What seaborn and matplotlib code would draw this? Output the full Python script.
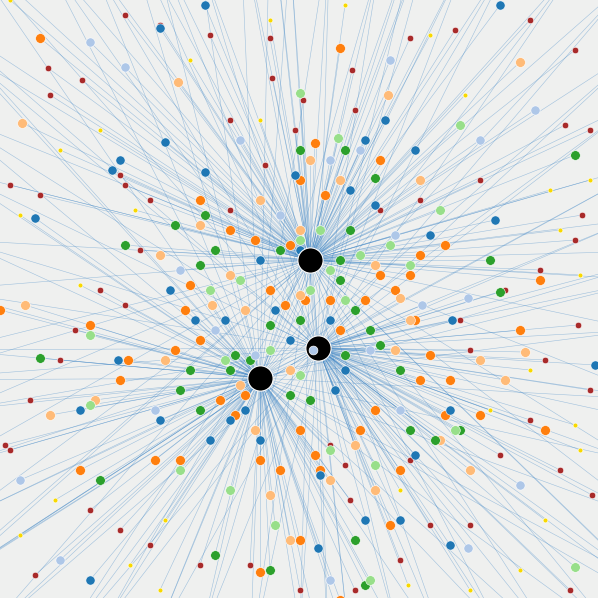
import numpy as np
import pandas as pd
import matplotlib.pyplot as plt
import seaborn as sns
from matplotlib.collections import LineCollection

# hub nodes (pixel-like layout coordinates)
hub_x = [310, 318, 260]
hub_y = [260, 348, 378]

# nodes per group
dark_red = [(270,38),(303,100),(272,78),(352,70),(410,38),(455,30),(530,20),(575,50),(590,130),(565,125),(582,215),(575,240),(540,270),(578,325),(545,360),(590,390),(530,420),(500,455),(560,470),(592,495),(470,525),(430,525),(400,560),(355,590),(300,590),(250,565),(200,565),(150,545),(120,530),(90,510),(35,575),(10,450),(5,445),(30,400),(60,360),(75,330),(100,290),(125,305),(140,250),(150,200),(125,185),(120,175),(10,185),(40,195),(48,68),(50,95),(82,80),(125,15),(160,25),(210,35),(230,120),(265,165),(230,210),(470,350),(460,320),(505,290),(480,180),(420,200),(380,210),(355,110),(295,130),(410,460),(350,500),(330,445),(345,465),(570,590)]
orange = [(40,38),(340,48),(315,143),(290,245),(325,195),(300,180),(230,230),(255,240),(270,290),(200,200),(190,285),(185,310),(380,275),(395,290),(415,320),(420,380),(430,355),(450,380),(480,415),(540,280),(520,330),(545,430),(445,415),(375,410),(360,430),(390,525),(340,600),(260,572),(300,540),(280,470),(300,430),(220,400),(200,340),(175,350),(120,380),(90,325),(0,310),(80,470),(180,460),(315,455),(320,355),(340,330),(330,300),(305,300),(285,305),(245,395),(235,415),(155,460),(380,160),(445,245),(420,255),(410,275),(128,360),(260,460),(320,470),(365,300),(400,470)]
light_orange = [(22,123),(178,82),(388,95),(520,62),(400,298),(410,320),(480,360),(505,380),(525,352),(470,470),(440,440),(375,265),(375,490),(290,540),(270,495),(255,430),(240,385),(212,305),(160,255),(165,360),(95,400),(50,415),(25,305),(200,225),(230,275),(245,310),(300,295),(300,230),(340,180),(420,180),(395,350),(355,445),(330,480),(310,160),(260,200),(290,370)]
green = [(575,155),(490,260),(500,292),(375,178),(345,150),(300,150),(205,215),(200,265),(215,250),(230,370),(235,355),(270,325),(280,250),(350,230),(355,310),(340,280),(345,355),(370,330),(380,345),(400,370),(410,430),(435,440),(460,430),(355,540),(365,585),(215,555),(270,570),(100,480),(40,358),(125,245),(175,225),(190,370),(180,390),(290,395),(300,320),(310,400),(340,260),(250,360),(200,410)]
light_green = [(300,93),(338,138),(440,210),(460,125),(410,265),(390,245),(360,255),(345,300),(330,270),(310,290),(300,240),(320,230),(240,280),(210,290),(90,335),(90,405),(180,470),(230,490),(275,525),(330,450),(375,465),(370,580),(455,430),(575,567),(300,375),(270,350),(225,360)]
blue = [(205,5),(160,28),(165,142),(205,172),(112,170),(120,160),(295,175),(365,140),(375,205),(350,190),(385,120),(415,150),(500,5),(495,220),(430,235),(452,320),(450,410),(415,455),(400,520),(365,520),(318,548),(320,475),(260,440),(230,420),(210,440),(160,420),(80,410),(35,218),(118,360),(170,290),(195,320),(225,320),(260,260),(275,310),(290,340),(330,320),(345,370),(335,390),(300,250),(245,410),(90,580),(450,545),(595,365)]
light_blue = [(90,42),(125,67),(390,60),(535,110),(480,140),(422,305),(395,235),(360,150),(240,140),(180,270),(215,330),(255,355),(330,160),(280,215),(155,410),(20,480),(60,560),(330,580),(468,548),(468,298),(520,485),(400,410),(370,350)]
yellow = [(10,0),(100,130),(60,150),(20,215),(80,285),(135,210),(190,60),(270,20),(345,5),(430,35),(465,95),(550,190),(590,180),(560,230),(580,275),(530,370),(575,425),(580,450),(545,520),(470,590),(520,570),(408,585),(160,590),(130,565),(20,535),(55,500),(165,520),(400,490),(490,410),(260,120),(600,410)]

# leaves beyond the visible frame (only their links show)
offscreen = [(-40,-60),(40,-50),(90,-40),(150,-70),(200,-40),(240,-80),(290,-50),(330,-70),(380,-40),(420,-80),(470,-50),(520,-60),(580,-40),(640,-30),(650,40),(640,100),(660,160),(630,220),(650,280),(640,330),(660,400),(630,460),(650,520),(640,580),(620,640),(560,650),(500,630),(450,660),(400,640),(350,650),(300,630),(250,660),(200,640),(150,650),(100,630),(50,660),(-20,640),(-50,580),(-40,520),(-60,470),(-40,410),(-50,350),(-60,290),(-40,240),(-50,170),(-60,110),(-40,50),(-70,10),(120,-90),(270,-100),(440,-100),(690,250),(-90,380),(330,690),(-80,600),(680,620)]

groups = {
    'dark_red': (dark_red, '#a82a2a', 22),
    'orange': (orange, '#ff7f0e', 50),
    'light_orange': (light_orange, '#ffbb78', 50),
    'green': (green, '#2ca02c', 48),
    'light_green': (light_green, '#98df8a', 48),
    'blue': (blue, '#1f77b4', 44),
    'light_blue': (light_blue, '#aec7e8', 44),
    'yellow': (yellow, '#f8d800', 12),
}

rows = []
for name, (pts, col, s) in groups.items():
    for x, y in pts:
        rows.append({'x': x, 'y': y, 'group': name, 'size': s})
df = pd.DataFrame(rows)

# each node links to its nearest hub; off-frame leaves link to every hub
hx, hy = np.array(hub_x), np.array(hub_y)
segs = []
for x, y in zip(df['x'], df['y']):
    k = np.argmin((hx - x) ** 2 + (hy - y) ** 2)
    segs.append([(x, y), (hx[k], hy[k])])
for x, y in offscreen:
    for k in range(3):
        segs.append([(x, y), (hx[k], hy[k])])

fig, ax = plt.subplots(figsize=(5.98, 5.98), dpi=100)
fig.subplots_adjust(0, 0, 1, 1)
fig.patch.set_facecolor('#eff0ef')
ax.set_facecolor('#eff0ef')

ax.add_collection(LineCollection(segs, colors='#3d85c6', linewidths=0.4, alpha=0.45, zorder=1))

for name, (pts, col, s) in groups.items():
    sub = df[df['group'] == name]
    sns.scatterplot(data=sub, x='x', y='y', color=col, s=s, edgecolor='white',
                    linewidth=0.4, ax=ax, zorder=2, legend=False)

sns.scatterplot(x=hub_x, y=hub_y, color='black', s=330, edgecolor='white', linewidth=0.8, ax=ax, zorder=3)
ax.scatter([313], [350], color='#aec7e8', s=40, zorder=4, edgecolors='white', linewidths=0.5)

ax.set_xlim(0, 598)
ax.set_ylim(598, 0)
ax.axis('off')
fig.savefig('out.png', dpi=100, facecolor=fig.get_facecolor())
